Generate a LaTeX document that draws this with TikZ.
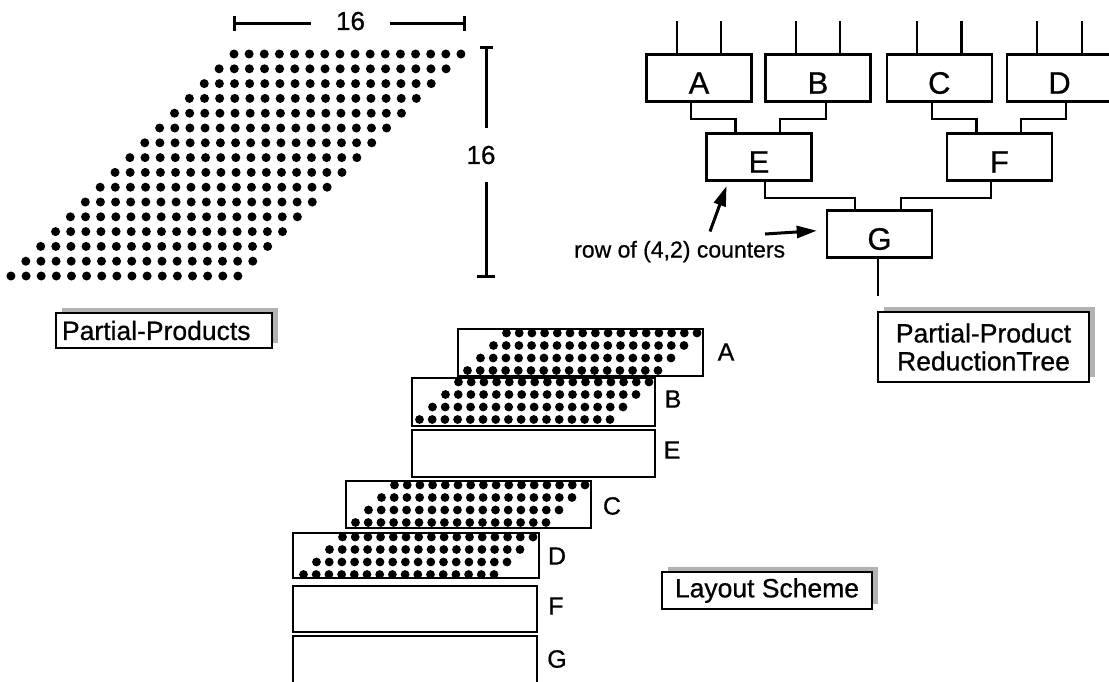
\documentclass[tikz,border=0pt]{standalone}
\usepackage{fontspec}
\setmainfont{Liberation Sans}[FakeBold=0.7]
\usetikzlibrary{arrows.meta,shadows,calc}
\begin{document}
\begin{tikzpicture}[x=1pt,y=-1pt,
  tbox/.style={draw, line width=2.5pt, minimum width=105pt, minimum height=47pt, inner sep=0pt},
  tlet/.style={font=\fontsize{31}{31}\selectfont, inner sep=0pt, yshift=-5pt},
  conn/.style={line width=2.3pt},
  lboxst/.style={line width=2.2pt},
  llet/.style={font=\fontsize{25}{25}\selectfont, inner sep=0pt},
  dim/.style={line width=3pt},
  dimtext/.style={font=\fontsize{26}{26}\selectfont, inner sep=0pt},
  bigarr/.style={line width=3pt, -{Triangle[length=20pt,width=12pt]}},
  lab/.style={draw, line width=2.2pt, fill=white, inner sep=0pt,
    font=\fontsize{26.5}{28}\selectfont,
    general shadow={fill=black!30, shadow xshift=6pt, shadow yshift=5pt}}
]
\useasboundingbox (0,0) rectangle (1109,681);

% ---- partial product dot array
\foreach \i in {0,...,15}
  \foreach \j in {0,...,15}
    \fill ({234-\i*14.87+\j*15.13},{54+\i*14.8}) circle (4.5);

% ---- dimension lines
\coordinate (hl) at (234,23);
\coordinate (hr) at (464,23);
\node[dimtext, minimum width=79pt] (h16) at (350.5,21) {16};
\draw[dim] (hl) -- (hl -| h16.west);
\draw[dim] (hl -| h16.east) -- (hr);
\draw[dim] ($(hl)+(0,-7)$) -- ($(hl)+(0,8)$);
\draw[dim] ($(hr)+(0,-7)$) -- ($(hr)+(0,8)$);

\coordinate (vt) at (486,47);
\coordinate (vb) at (486,276);
\node[dimtext, minimum height=54pt] (v16) at (481,155) {16};
\draw[dim] (vt) -- (vt |- v16.north);
\draw[dim] (vt |- v16.south) -- (vb);
\draw[dim] ($(vt)+(-6,0)$) -- ($(vt)+(7,0)$);
\draw[dim] ($(vb)+(-9,0)$) -- ($(vb)+(9,0)$);

% ---- reduction tree
\begin{scope}
\clip (0,0) rectangle (1109,681);
\node[tbox, label={[tlet]center:A}] (A) at (699,78) {};
\node[tbox, label={[tlet]center:B}] (B) at (818,78) {};
\node[tbox, label={[tlet]center:C}] (C) at (939.3,78) {};
\node[tbox, label={[tlet]center:D}] (D) at (1059.5,78) {};
\node[tbox, label={[tlet]center:E}] (E) at (759,157) {};
\node[tbox, label={[tlet]center:F}] (F) at (999.3,157) {};
\node[tbox, label={[tlet]center:G}] (G) at (879.5,234) {};

\foreach \n in {A,B,C,D}{
  \draw[conn] ([xshift=31.4pt]\n.north west) -- ++(0,-32);
  \draw[conn] ([xshift=76pt]\n.north west) -- ++(0,-32);
}
\draw[conn] ([xshift=45.5pt]A.south west) -- ++(0,16) -| ([xshift=30.2pt]E.north west);
\draw[conn] ([xshift=61.5pt]B.south west) -- ++(0,16) -| ([xshift=74.8pt]E.north west);
\draw[conn] ([xshift=46.2pt]C.south west) -- ++(0,16) -| ([xshift=30.9pt]F.north west);
\draw[conn] ([xshift=60pt]D.south west) -- ++(0,16) -| ([xshift=75.5pt]F.north west);
\draw[conn] ([xshift=59.5pt]E.south west) -- ++(0,16) -| ([xshift=29.3pt]G.north west);
\draw[conn] ([xshift=45.2pt]F.south west) -- ++(0,16) -| ([xshift=75pt]G.north west);
\draw[conn] ([xshift=-1.8pt]G.south) -- ++(0,37);
\end{scope}

\node[font=\fontsize{23}{23}\selectfont, inner sep=0pt, anchor=base west] (cnt) at (574,257.5) {row of (4,2) counters};
\draw[bigarr] ($(cnt.base west)+(136,-26)$) -- ($(E.south west)+(21.3,4.3)$);
\draw[bigarr] ($(cnt.base west)+(191,-23.5)$) -- ($(G.west)+(-9,-3.3)$);

% ---- layout scheme
\foreach \L/\T/\R/\B in {458/329/703/376, 412/378/655/426, 346/481/591/528, 293/533/539/578}{
  \begin{scope}
    \clip (\L,\T) rectangle (\R,\B);
    \foreach \r in {0,1,2,3}
      \foreach \j in {0,...,15}
        \fill ({\R-6-\r*13-(15-\j)*12.7},{\T+4+\r*12.5}) circle (4.4);
  \end{scope}
  \draw[lboxst] (\L,\T) rectangle (\R,\B);
}
\draw[lboxst] (412,430) rectangle (655,477);
\draw[lboxst] (293,586) rectangle (537,632);
\draw[lboxst] (293,690) -- (293,636) -- (537,636) -- (537,690);

\node[llet] (lA) at (726,352) {A};
\node[llet] (lB) at (673,399) {B};
\node[llet] (lE) at (672,450) {E};
\node[llet] (lC) at (612,506) {C};
\node[llet] (lD) at (557,556) {D};
\node[llet] (lF) at (556,606) {F};
\node[llet] (lG) at (557,659) {G};

% ---- labels
\node[lab, minimum width=216pt, minimum height=35pt, text width=204pt, align=left] (pp) at (164,330.5) {Partial-Products};
\node[lab, minimum width=211pt, minimum height=70pt, align=center] (pprt) at (983.5,347) {Partial-Product\\ReductionTree};
\node[lab, minimum width=210pt, minimum height=37pt] (ls) at (767,590.5) {Layout Scheme};
\end{tikzpicture}
\end{document}
